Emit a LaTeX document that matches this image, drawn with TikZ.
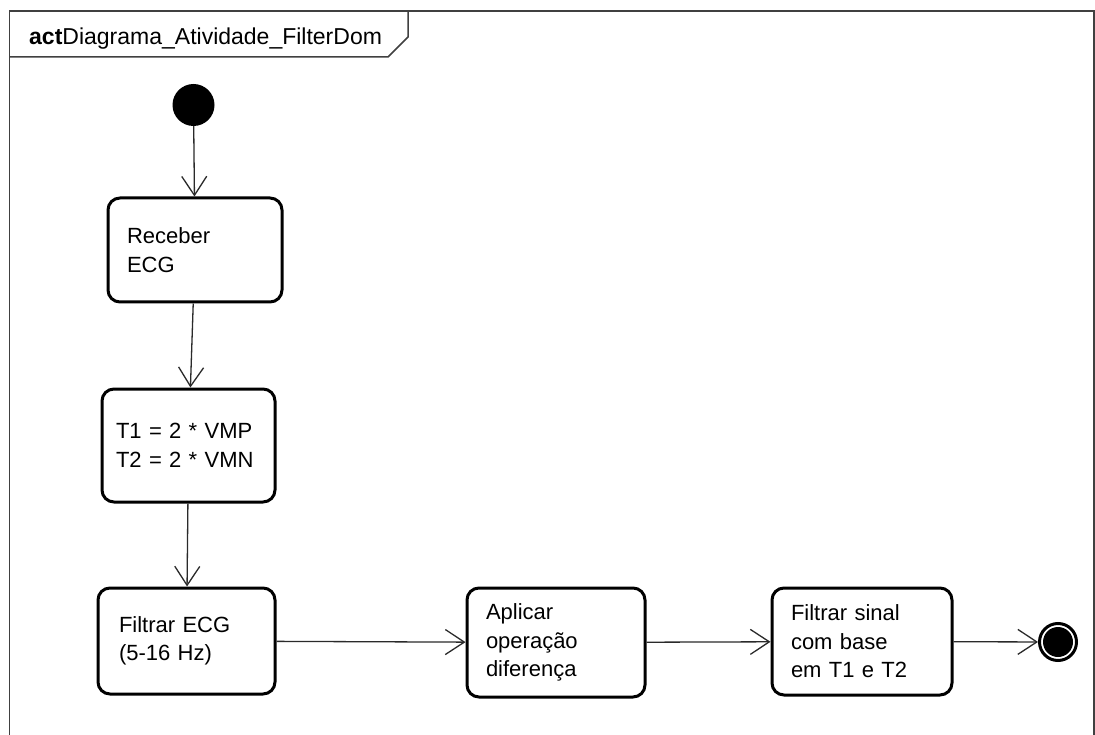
\documentclass[tikz,border=0pt]{standalone}
\usepackage{fontspec}
\setmainfont{Liberation Sans}
\usetikzlibrary{arrows.meta}
\definecolor{framegray}{HTML}{404040}
\definecolor{linegray}{HTML}{2A2A2A}
\tikzset{
  actbox/.style={draw=black, line width=3pt, rounded corners=12pt, fill=white,
    align=left, inner ysep=0pt, text=black,
    font=\fontsize{22}{28.5}\selectfont},
  flow/.style={draw=linegray, line width=1.3pt,
    -{Straight Barb[length=19pt,width=25pt,line width=1.3pt]}},
  frameline/.style={draw=framegray, line width=1.5pt}
}
\begin{document}
\begin{tikzpicture}[x=1pt,y=-1pt]
\useasboundingbox (0,0) rectangle (1095,735);
\fill[white] (0,0) rectangle (1095,735);

% diagram frame and name tab
\draw[frameline] (9.5,11) rectangle (1094,745);
\draw[frameline] (9.5,57) -- (388,57) -- (408,37) -- (408,11);
\node[anchor=base west, inner sep=0pt, font=\fontsize{23}{28}\selectfont] (title) at (29,45)
  {\textbf{act}Diagrama\_Atividade\_FilterDom};

% initial and final nodes
\node[circle, fill=black, minimum size=42pt, inner sep=0pt] (start) at (193.5,105) {};
\node[circle, draw=black, line width=3pt, fill=white, minimum size=37pt, inner sep=0pt] (stop) at (1058,642) {};
\node[circle, fill=black, minimum size=30pt, inner sep=0pt] (stopcore) at (stop.center) {};

% actions
\node[actbox, text width=136pt, inner xsep=19pt, minimum height=104pt] (recv) at (195,250) {Receber\\ECG};
\node[actbox, text width=145pt, inner xsep=14pt, minimum height=113pt] (thr) at (188.5,445.5) {T1 = 2 * VMP\\T2 = 2 * VMN};
\node[actbox, text width=135pt, inner xsep=21pt, minimum height=106pt] (filt) at (186.5,641) {Filtrar ECG\\(5-16 Hz)};
\node[actbox, text width=140pt, inner xsep=19pt, minimum height=109pt] (diff) at (556,642.5) {Aplicar\\operação\\diferença};
\node[actbox, text width=142pt, inner xsep=19pt, minimum height=107pt] (sig) at (862,641.5) {Filtrar sinal\\com base\\em T1 e T2};

% control flows
\draw[flow] (start) -- (recv);
\draw[flow] (recv) -- (thr);
\draw[flow] (thr) -- (filt);
\draw[flow] (filt) -- (diff);
\draw[flow] (diff) -- (sig);
\draw[flow] (sig) -- (stop);
\end{tikzpicture}
\end{document}
